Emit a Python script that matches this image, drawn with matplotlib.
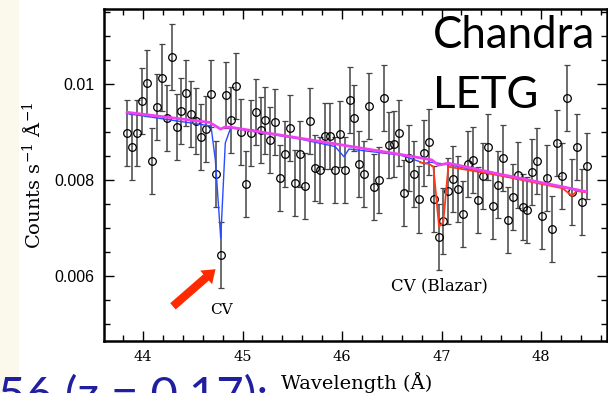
import numpy as np
import matplotlib
matplotlib.use("Agg")
import matplotlib.pyplot as plt
from matplotlib.patches import Rectangle
from matplotlib.ticker import MultipleLocator

# binned LETG spectrum (wavelength bin centres, counts s^-1 A^-1)
wave = np.linspace(43.84, 48.46, 94)
counts = [
    0.008985, 0.008694, 0.008985, 0.009646, 0.010027, 0.008396, 0.009527, 0.010135,
    0.009292, 0.010556, 0.009110, 0.009431, 0.009813, 0.009375, 0.009233, 0.008896,
    0.009063, 0.009802, 0.008121, 0.006444, 0.009771, 0.009244, 0.009965, 0.009006,
    0.007910, 0.008973, 0.009417, 0.009048, 0.009240, 0.008840, 0.009208, 0.008035,
    0.008548, 0.009090, 0.007931, 0.008542, 0.007869, 0.009229, 0.008244, 0.008215,
    0.008921, 0.008921, 0.008215, 0.008965, 0.008202, 0.009667, 0.009285, 0.008329,
    0.008125, 0.009548, 0.007860, 0.008006, 0.009715, 0.008729, 0.008756, 0.008985,
    0.007723, 0.008452, 0.008119, 0.007594, 0.008556, 0.008785, 0.007600, 0.006819,
    0.007146, 0.007775, 0.008025, 0.007806, 0.007292, 0.008340, 0.008410, 0.007577,
    0.008088, 0.008681, 0.007454, 0.007904, 0.008452, 0.007167, 0.007640, 0.008104,
    0.007444, 0.007375, 0.008160, 0.008396, 0.007250, 0.008035, 0.006973, 0.008765,
    0.008090, 0.009702, 0.007744, 0.008694, 0.007548, 0.008298,
]
err = 0.00069

# continuum model (magenta)
cont_wave = [43.84, 44.67, 44.78, 44.82, 44.88, 45.58, 46.58, 46.90, 46.97, 47.07, 47.59, 48.45]
cont_flux = [0.00941, 0.00920, 0.00906, 0.00910, 0.00910, 0.00887, 0.008535, 0.00842,
             0.00831, 0.00835, 0.00812, 0.00776]

# model with intervening CV absorption (blue)
blue_wave = [43.84, 44.683, 44.727, 44.781, 44.827, 44.881, 45.578, 45.93, 46.02, 46.07,
             46.583, 46.784, 46.824, 46.874, 47.065, 47.588, 48.452]
blue_flux = [0.009385, 0.009125, 0.008417, 0.006785, 0.008771, 0.009088, 0.008854, 0.008698,
             0.008485, 0.008646, 0.008521, 0.008381, 0.008333, 0.008375, 0.008323, 0.008094,
             0.00775]

# model with blazar CV absorption (red)
red_wave = [46.784, 46.877, 46.918, 46.975, 47.018, 47.068, 47.588, 48.218, 48.312, 48.357, 48.452]
red_flux = [0.008365, 0.008333, 0.008277, 0.007027, 0.007125, 0.008277, 0.008094, 0.007827,
            0.007667, 0.007771, 0.007744]

yticks = [0.006, 0.008, 0.01]
ytick_labels = ["0.006", "0.008", "0.01"]

plt.rcParams["mathtext.fontset"] = "dejavuserif"

W, H = 608, 393
fig = plt.figure(figsize=(W / 100, H / 100), dpi=100)
fig.patches.append(Rectangle((0, 0), 18 / W, 1, transform=fig.transFigure,
                             color="#fbf9ec", zorder=-5))

ax = fig.add_axes([104 / W, 52 / H, 503 / W, 332 / H])
ax.errorbar(wave, counts, yerr=err, fmt="o", mfc="none", mec="black", ms=5.5, mew=0.9,
            ecolor="#454545", elinewidth=1.1, capsize=2.5, capthick=1.1, zorder=2)
ax.plot(blue_wave, blue_flux, color="#2a4bff", lw=1.0, zorder=3)
ax.plot(red_wave, red_flux, color="#ff3a1a", lw=1.3, zorder=3)
ax.plot(cont_wave, cont_flux, color="#f040f0", lw=2.0, zorder=4)

ax.set_xlim(43.608, 48.663)
ax.set_ylim(0.004646, 0.0115625)
ax.xaxis.set_major_locator(MultipleLocator(1))
ax.xaxis.set_minor_locator(MultipleLocator(0.2))
ax.set_yticks(yticks)
ax.set_yticklabels(ytick_labels, family="Liberation Sans", fontsize=11.5)
ax.yaxis.set_minor_locator(MultipleLocator(0.0005))
for lab in ax.get_xticklabels():
    lab.set_family("DejaVu Serif")
    lab.set_fontsize(10.5)
ax.tick_params(which="both", direction="in", top=True, right=True, width=1)
ax.tick_params(which="major", length=7.2)
ax.tick_params(which="minor", length=4)
ax.tick_params(axis="y", pad=7)
ax.tick_params(axis="x", pad=6.5)
for s in ax.spines.values():
    s.set_linewidth(1.8)

fig.text(33 / W, 1 - 175 / H, r"Counts s$^{-1}$ Å$^{-1}$", family="DejaVu Serif",
         fontsize=14, rotation=90, ha="center", va="center")
fig.text(357 / W, 1 - 389 / H, "Wavelength (Å)", family="DejaVu Serif", fontsize=14,
         ha="center", va="baseline")

ax.text(44.79, 0.0053, "CV", family="DejaVu Serif", fontsize=11, ha="center", va="center")
ax.text(46.98, 0.0058, "CV (Blazar)", family="DejaVu Serif", fontsize=12,
        ha="center", va="center")
ax.annotate("", xy=(44.75, 0.00618), xytext=(44.28, 0.00533),
            arrowprops=dict(arrowstyle="simple,head_length=0.9,head_width=1.3,tail_width=0.6",
                            color="#ff2a00", lw=0))

fig.text(433 / W, 1 - 48 / H, "Chandra", family="Lato", fontsize=31.5, va="baseline")
fig.text(433 / W, 1 - 108 / H, "LETG", family="Lato", fontsize=31.5, va="baseline")
fig.text(-2 / W, 1 - 410 / H, "56 (z = 0.17):", family="Lato", fontsize=34,
         color="#1f1fa0", va="baseline")

fig.savefig("out.png", dpi=100)
